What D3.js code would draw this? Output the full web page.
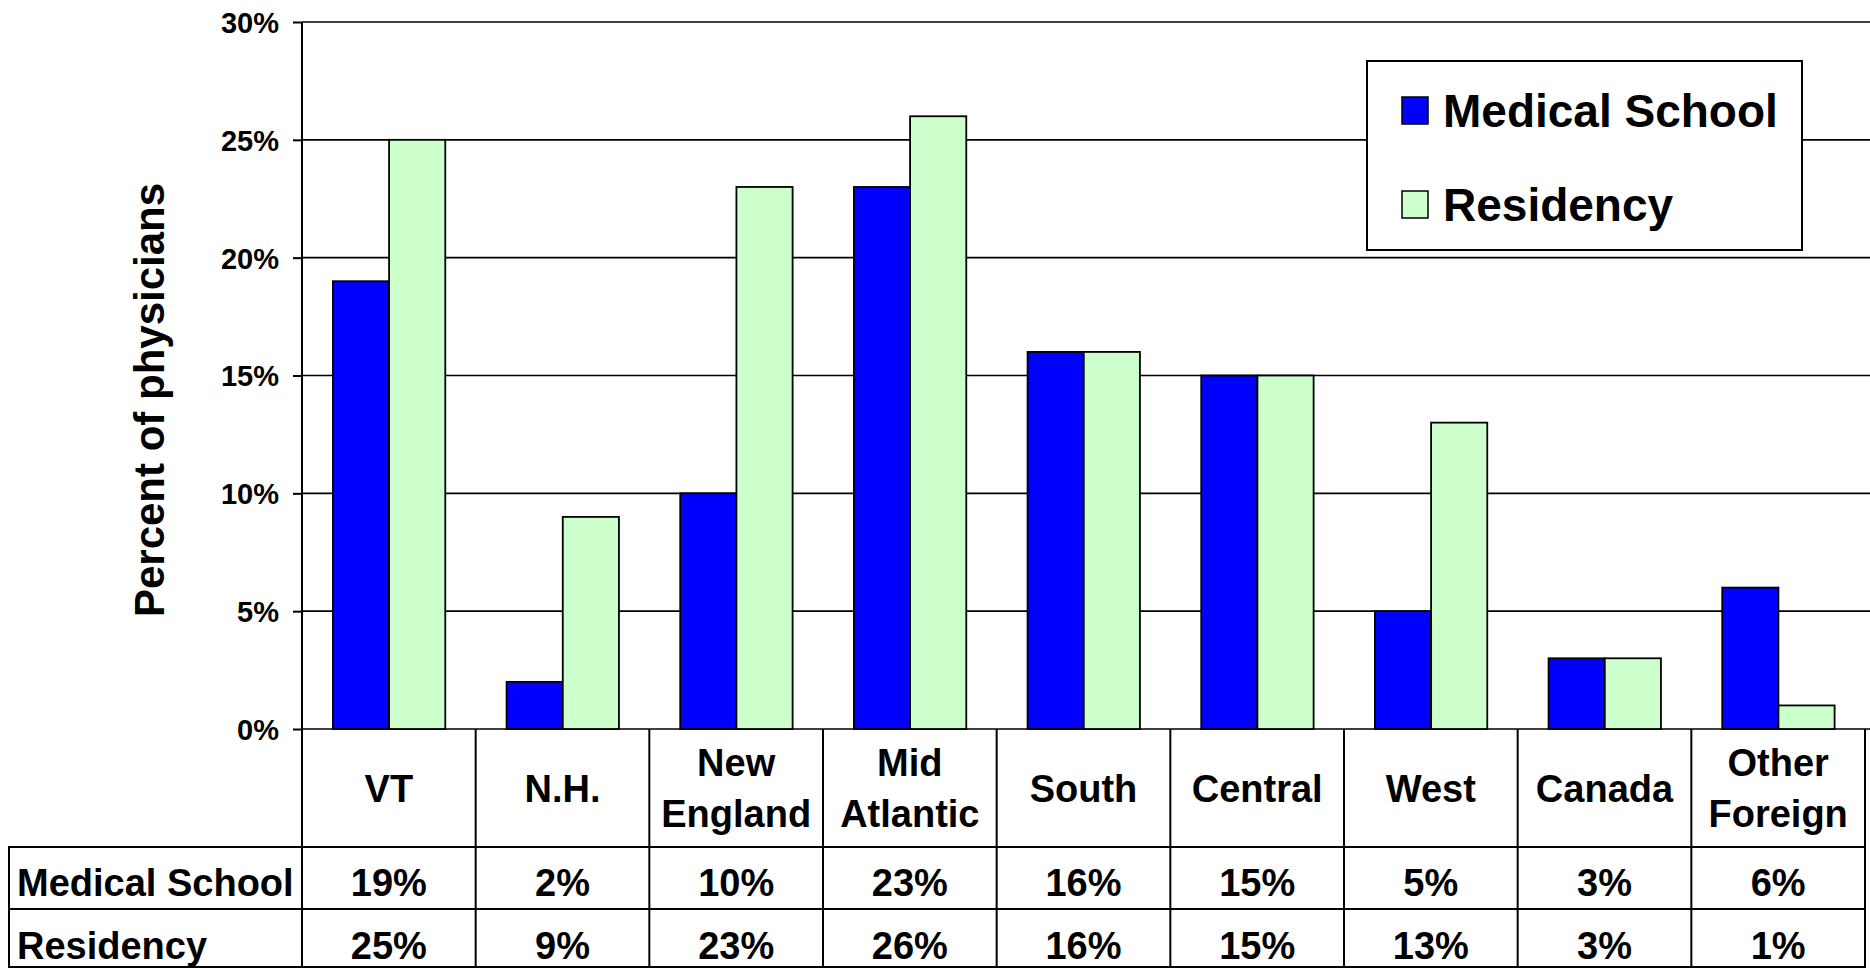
<!DOCTYPE html>
<html>
<head>
<meta charset="utf-8">
<script src="https://cdn.jsdelivr.net/npm/d3@7"></script>
<style>
  html, body { margin: 0; padding: 0; background: #fff; }
  svg { display: block; }
  text { font-family: "Liberation Sans", Arial, sans-serif; font-weight: bold; fill: #000; }
</style>
</head>
<body>
<svg id="chart" width="1870" height="968"></svg>
<script>
const categories = [["VT"], ["N.H."], ["New", "England"], ["Mid", "Atlantic"], ["South"], ["Central"], ["West"], ["Canada"], ["Other", "Foreign"]];
const seriesNames = ["Medical School", "Residency"];
const medicalSchool = [19, 2, 10, 23, 16, 15, 5, 3, 6];
const residency = [25, 9, 23, 26, 16, 15, 13, 3, 1];
const yTicks = [0, 5, 10, 15, 20, 25, 30];
const colors = ["#0000FF", "#CCFFCC"];
const yTitle = "Percent of physicians";

(function () {
const seriesValues = [medicalSchool, residency];
const catKeys = categories.map(c => c.join(" "));

const svg = d3.select("#chart");
const pLeft = 302, pRight = 1865, pTop = 22, pBottom = 729;
const tableLeft = 9, rowLabelBottom = 847, rowMedBottom = 909, tableBottom = 967;

const x0 = d3.scaleBand().domain(catKeys).range([pLeft, pRight]).padding(0);
const bw = x0.bandwidth();
const x1 = d3.scaleBand().domain(seriesNames).range([bw * 0.178, bw * 0.825]).padding(0);
const y = d3.scaleLinear().domain([0, 30]).range([pBottom, pTop]);

const yAxis = d3.axisLeft(y).tickValues(yTicks).tickSize(9).tickFormat(d => d + "%").tickPadding(14);
const gAxis = svg.append("g").attr("transform", `translate(${pLeft},0)`).call(yAxis);
gAxis.select(".domain").remove();
gAxis.selectAll(".tick line").attr("stroke", "#000").attr("stroke-width", 2);
gAxis.selectAll(".tick text").attr("font-size", 29).attr("font-family", "Liberation Sans, Arial, sans-serif").attr("font-weight", "bold").attr("fill", "#000").attr("dy", "0.36em");

svg.append("g").selectAll("line").data(yTicks).join("line")
  .attr("x1", pLeft).attr("x2", 1870)
  .attr("y1", d => y(d)).attr("y2", d => y(d))
  .attr("stroke", "#000").attr("stroke-width", 1.6);

const groups = svg.append("g").selectAll("g").data(catKeys).join("g")
  .attr("transform", d => `translate(${x0(d)},0)`);
groups.selectAll("rect").data((d, i) => seriesNames.map((s, j) => ({ s, v: seriesValues[j][i], j })))
  .join("rect")
  .attr("x", d => x1(d.s))
  .attr("width", x1.bandwidth())
  .attr("y", d => y(d.v))
  .attr("height", d => y(0) - y(d.v))
  .attr("fill", d => colors[d.j])
  .attr("stroke", "#000").attr("stroke-width", 1.8);

svg.append("line").attr("x1", pLeft).attr("x2", pLeft).attr("y1", pTop).attr("y2", tableBottom)
  .attr("stroke", "#000").attr("stroke-width", 2);

svg.append("text")
  .attr("transform", `translate(149,400) rotate(-90)`)
  .attr("text-anchor", "middle").attr("dominant-baseline", "central")
  .attr("font-size", 42)
  .text(yTitle);

const tg = svg.append("g");
const lineAttr = sel => sel.attr("stroke", "#000").attr("stroke-width", 2);
tg.selectAll("line.col").data(catKeys.map(k => x0(k) + bw)).join("line")
  .attr("x1", d => d).attr("x2", d => d).attr("y1", pBottom).attr("y2", tableBottom).call(lineAttr);
tg.append("line").attr("x1", tableLeft).attr("x2", tableLeft).attr("y1", rowLabelBottom).attr("y2", tableBottom).call(lineAttr);
[rowLabelBottom, rowMedBottom, tableBottom].forEach(yy => {
  tg.append("line").attr("x1", tableLeft - 1).attr("x2", pRight + 1).attr("y1", yy).attr("y2", yy).call(lineAttr);
});

const labelMid = (pBottom + rowLabelBottom) / 2;
const lineH = 51;
tg.selectAll("text.cat").data(categories).join("text")
  .attr("class", "cat")
  .attr("text-anchor", "middle")
  .attr("font-size", 38)
  .each(function(d, i) {
    const t = d3.select(this);
    const cx = x0(catKeys[i]) + bw / 2;
    const n = d.length;
    d.forEach((line, k) => {
      t.append("tspan").attr("x", cx)
        .attr("y", labelMid + (k - (n - 1) / 2) * lineH)
        .attr("dy", "0.36em").text(line);
    });
  });

const rowCenters = [(rowLabelBottom + rowMedBottom) / 2 + 4, (rowMedBottom + tableBottom) / 2 + 7];
seriesNames.forEach((s, j) => {
  tg.append("text").attr("x", 17).attr("y", rowCenters[j]).attr("dy", "0.36em")
    .attr("font-size", 38).text(s);
  tg.selectAll(null).data(seriesValues[j]).join("text")
    .attr("x", (d, i) => x0(catKeys[i]) + bw / 2)
    .attr("y", rowCenters[j]).attr("dy", "0.36em")
    .attr("text-anchor", "middle").attr("font-size", 38)
    .text(d => d + "%");
});

const lg = svg.append("g");
lg.append("rect").attr("x", 1367).attr("y", 61).attr("width", 435).attr("height", 189)
  .attr("fill", "#fff").attr("stroke", "#000").attr("stroke-width", 2);
const legendY = [110, 204];
seriesNames.forEach((s, j) => {
  lg.append("rect").attr("x", 1402).attr("y", legendY[j] - 13).attr("width", 26).attr("height", 27)
    .attr("fill", colors[j]).attr("stroke", "#000").attr("stroke-width", 1.5);
  lg.append("text").attr("x", 1443).attr("y", legendY[j]).attr("dy", "0.36em")
    .attr("font-size", 46).text(s);
});
})();
</script>
</body>
</html>
